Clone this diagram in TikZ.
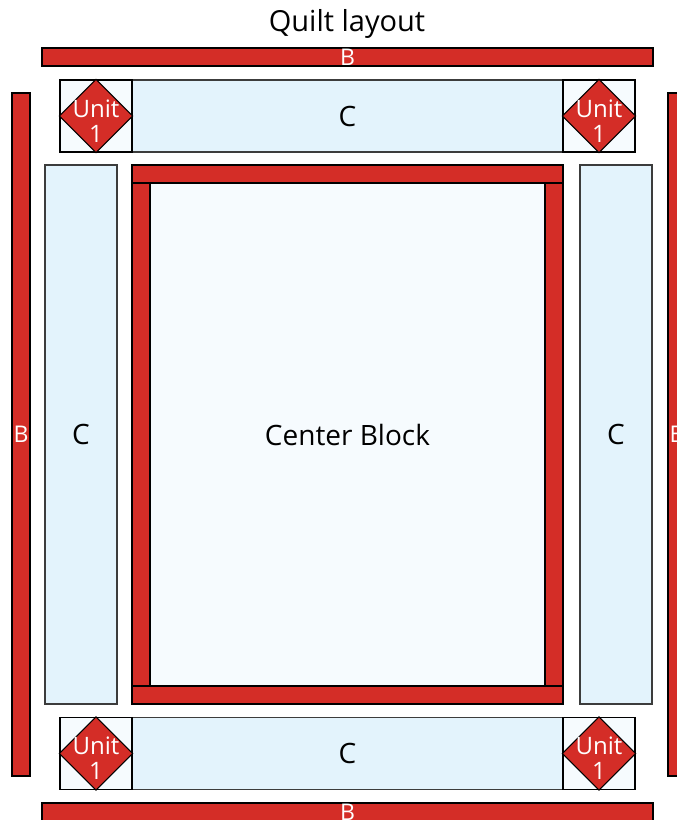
\documentclass[tikz,border=0pt]{standalone}
\usepackage{fontspec}
\setmainfont{Open Sans}
\usepackage{xcolor}
\definecolor{qred}{RGB}{212,45,39}
\definecolor{qblue}{RGB}{227,243,252}
\definecolor{qpale}{RGB}{246,251,254}
\definecolor{qedge}{RGB}{60,60,60}
\usetikzlibrary{positioning}

\begin{document}
\begin{tikzpicture}[x=1pt, y=-1pt,
    redbar/.style={rectangle, draw=black, line width=1.1pt, fill=qred, inner sep=0pt},
    cbox/.style={rectangle, draw=qedge, line width=1.1pt, fill=qblue, inner sep=0pt,
                 font=\fontsize{28}{30}\selectfont},
    unitsq/.style={rectangle, draw=black, line width=1.1pt, fill=qpale, inner sep=0pt,
                   minimum width=72pt, minimum height=72pt},
    unitdia/.style={draw=black, line width=1.1pt, fill=qred},
    unittxt/.style={text=white, align=center, font=\fontsize{24}{25}\selectfont},
    blbl/.style={text=white, font=\fontsize{23}{25}\selectfont},
  ]
    \useasboundingbox (0,0) rectangle (677,820);

    % --- Title ---
    \node[font=\fontsize{29}{31}\selectfont] (title) at (347,24) {Quilt layout};

    % --- Outer B borders ---
    \node[redbar, minimum width=611pt, minimum height=18pt] (btop) at (347.5,57) {};
    \node[redbar, minimum width=611pt, minimum height=18pt] (bbot) at (347.5,812) {};
    \node[redbar, minimum width=18pt, minimum height=683pt] (bleft) at (21,434.5) {};
    \node[redbar, minimum width=18pt, minimum height=683pt] (bright) at (677,434.5) {};
    \node[blbl] at (btop) {B};
    \node[blbl] at (bbot) {B};
    \node[blbl] at (bleft) {B};
    \node[blbl] at (bright) {B};

    % --- C strips ---
    \node[cbox, minimum width=431pt, minimum height=72pt] (ctop) at (347.5,116) {C};
    \node[cbox, minimum width=431pt, minimum height=72pt] (cbot) at (347.5,753.5) {C};
    \node[cbox, minimum width=72pt, minimum height=539pt] (cleft) at (81,434.5) {C};
    \node[cbox, minimum width=72pt, minimum height=539pt] (cright) at (616,434.5) {C};

    % --- Corner units ---
    \node[unitsq] (utl) at (96,116) {};
    \node[unitsq] (utr) at (599,116) {};
    \node[unitsq] (ubl) at (96,753.5) {};
    \node[unitsq] (ubr) at (599,753.5) {};
    \foreach \u in {utl,utr,ubl,ubr}{
      \draw[unitdia] (\u.north) -- (\u.east) -- (\u.south) -- (\u.west) -- cycle;
      \node[unittxt] at ([yshift=-5pt]\u.center) {Unit\\1};
    }

    % --- Center block with red frame ---
    \node[redbar, minimum width=431pt, minimum height=18pt] (ftop) at (347.5,174) {};
    \node[redbar, minimum width=431pt, minimum height=18pt] (fbot) at (347.5,695) {};
    \node[redbar, minimum width=18pt, minimum height=503pt] (fleft) at (141,434.5) {};
    \node[redbar, minimum width=18pt, minimum height=503pt] (fright) at (554,434.5) {};
    \node[rectangle, draw=black, line width=1.1pt, fill=qpale, inner sep=0pt,
          minimum width=395pt, minimum height=503pt,
          font=\fontsize{28}{30}\selectfont] (center) at (347.5,434.5) {Center Block};
  \end{tikzpicture}
\end{document}
